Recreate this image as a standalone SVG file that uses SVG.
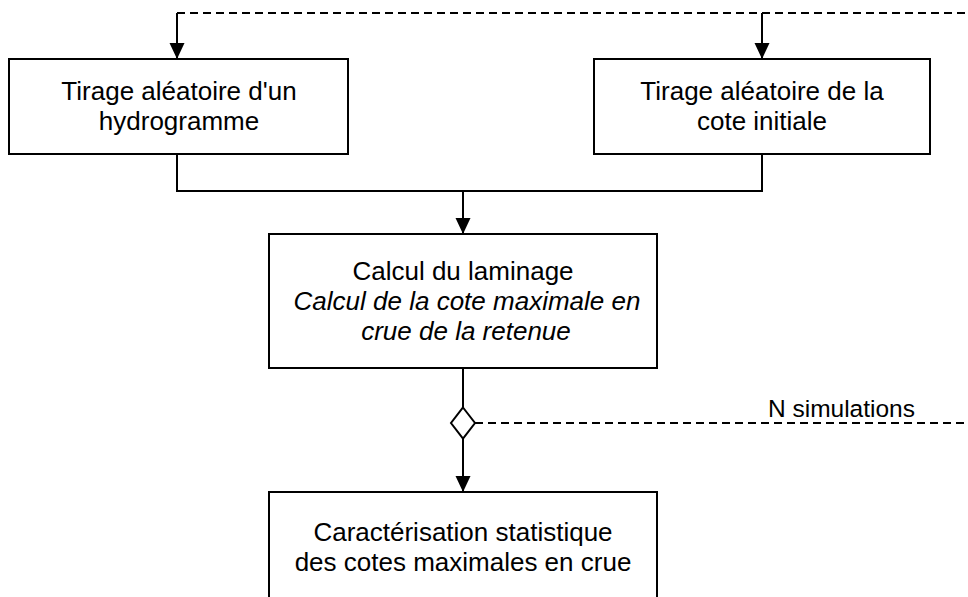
<svg xmlns="http://www.w3.org/2000/svg" width="968" height="597" viewBox="0 0 968 597">
<style>
.box{fill:#fff;stroke:#000;stroke-width:2}
.t{font-family:"Liberation Sans",Arial,sans-serif;font-size:26px;fill:#000;text-anchor:middle}
.i{font-style:italic}
.ln{fill:none;stroke:#000;stroke-width:2}
.dash{fill:none;stroke:#000;stroke-width:2;stroke-dasharray:8 5}
</style>
<defs>
<marker id="ah" viewBox="0 0 16 16" refX="16" refY="8" markerWidth="16" markerHeight="16" markerUnits="userSpaceOnUse" orient="auto">
<path d="M0,0.5 L16,8 L0,15.5 Z" fill="#000"/>
</marker>
</defs>
<rect width="968" height="597" fill="#fff"/>
<g id="connectors">
<path class="dash" d="M177,13 H968"/>
<path class="ln" d="M177,13 V59" marker-end="url(#ah)"/>
<path class="ln" d="M762,13 V59" marker-end="url(#ah)"/>
<path class="ln" d="M177,154 V191 H762 V154"/>
<path class="ln" d="M463,191 V234" marker-end="url(#ah)"/>
<path class="ln" d="M463,368 V407.5"/>
<path class="ln" d="M463,438.5 V492" marker-end="url(#ah)"/>
<path class="dash" d="M475,423 H968"/>
<path fill="#fff" stroke="#000" stroke-width="2" d="M463,407.5 L475,423 L463,438.5 L451,423 Z"/>
<text class="t" x="915" y="417" style="text-anchor:end;font-size:24.5px">N simulations</text>
</g>
<g id="node-hydrogramme">
<rect class="box" x="9" y="59" width="339" height="95"/>
<text class="t" x="179" y="100">Tirage aléatoire d'un</text>
<text class="t" x="179" y="130">hydrogramme</text>
</g>
<g id="node-cote-initiale">
<rect class="box" x="594" y="59" width="336" height="95"/>
<text class="t" x="762" y="100">Tirage aléatoire de la</text>
<text class="t" x="762" y="130">cote initiale</text>
</g>
<g id="node-laminage">
<rect class="box" x="269" y="234" width="388" height="134"/>
<text class="t" x="463" y="280">Calcul du laminage</text>
<text class="t i" x="467" y="310">Calcul de la cote maximale en</text>
<text class="t i" x="466" y="340">crue de la retenue</text>
</g>
<g id="node-statistique">
<rect class="box" x="269" y="492" width="388" height="120"/>
<text class="t" x="463" y="541">Caractérisation statistique</text>
<text class="t" x="463" y="571">des cotes maximales en crue</text>
</g>
</svg>
